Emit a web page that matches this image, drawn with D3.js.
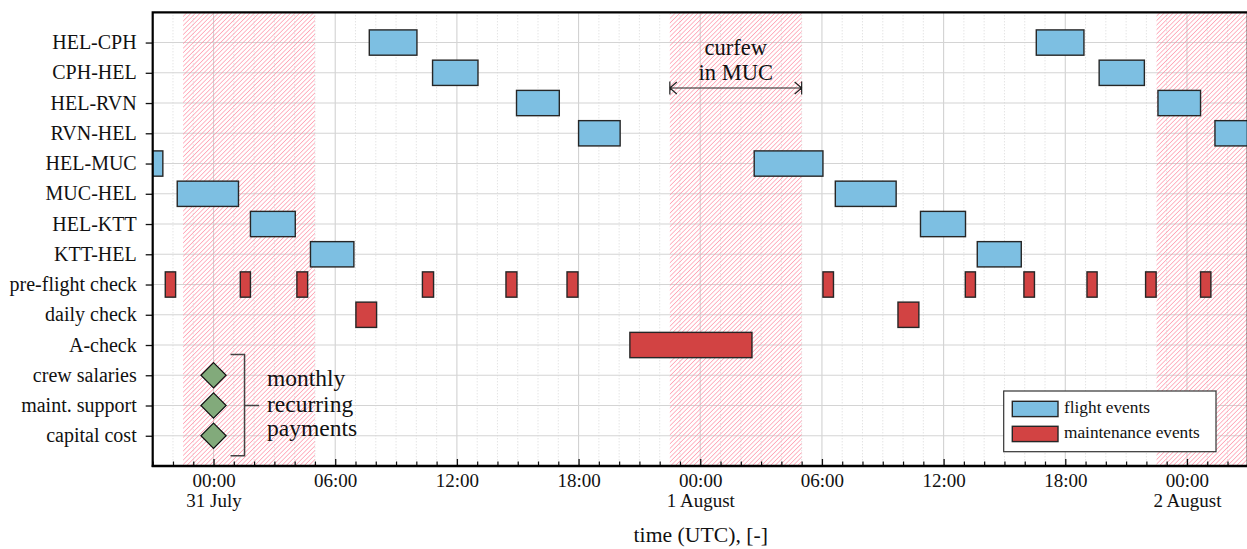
<!DOCTYPE html>
<html>
<head>
<meta charset="utf-8">
<script src="https://cdn.jsdelivr.net/npm/d3@7"></script>
<style>
  html, body { margin: 0; padding: 0; background: #fff; }
  svg { display: block; font-family: "Liberation Serif", "DejaVu Serif", serif; }
</style>
</head>
<body>
<svg id="chart" width="1247" height="549"></svg>
<script>
// ---------- data (hours relative to 31 July 00:00 UTC) ----------
const rows = ["HEL-CPH", "CPH-HEL", "HEL-RVN", "RVN-HEL", "HEL-MUC", "MUC-HEL",
  "HEL-KTT", "KTT-HEL", "pre-flight check", "daily check", "A-check",
  "crew salaries", "maint. support", "capital cost"];

const flightRows   = ["HEL-CPH", "HEL-CPH", "CPH-HEL", "CPH-HEL", "HEL-RVN", "HEL-RVN",
  "RVN-HEL", "RVN-HEL", "HEL-MUC", "HEL-MUC", "MUC-HEL", "MUC-HEL",
  "HEL-KTT", "HEL-KTT", "KTT-HEL", "KTT-HEL"];
const flightStart  = [7.68, 40.57, 10.80, 43.67, 14.94, 46.57, 18.00, 49.38,
  -3.50, 26.66, -1.79, 30.66, 1.82, 34.86, 4.78, 37.66];
const flightEnd    = [10.03, 42.92, 13.04, 45.90, 17.05, 48.67, 20.05, 51.50,
  -2.50, 30.05, 1.23, 33.66, 4.03, 37.08, 6.92, 39.83];

const maintRows  = ["pre-flight check", "pre-flight check", "pre-flight check", "pre-flight check",
  "pre-flight check", "pre-flight check", "pre-flight check", "pre-flight check",
  "pre-flight check", "pre-flight check", "pre-flight check", "pre-flight check",
  "daily check", "daily check", "A-check"];
const maintStart = [-2.38, 1.32, 4.11, 10.30, 14.42, 17.43, 30.05, 37.07, 39.96, 43.07, 45.96, 48.67,
  7.02, 33.75, 20.53];
const maintEnd   = [-1.87, 1.82, 4.64, 10.85, 14.96, 17.97, 30.57, 37.57, 40.48, 43.57, 46.48, 49.18,
  8.04, 34.78, 26.55];

const paymentRows = ["crew salaries", "maint. support", "capital cost"];
const paymentTime = [0, 0, 0];

const curfewStart = [-1.5, 22.5, 46.5];
const curfewEnd   = [5.0, 29.0, 53.0];

const xDomain = [-3, 51];
const majorTicks = [0, 6, 12, 18, 24, 30, 36, 42, 48];
const tickTimeLabels = ["00:00", "06:00", "12:00", "18:00", "00:00", "06:00", "12:00", "18:00", "00:00"];
const tickDayLabels  = ["31 July", "", "", "", "1 August", "", "", "", "2 August"];
const legendLabels = ["flight events", "maintenance events"];

// ---------- layout ----------
const svg = d3.select("#chart");
const L = 152.7, R = 1247.8, T = 12.3, B = 466;
const x = d3.scaleLinear().domain(xDomain).range([L, R]);
const y = d3.scalePoint().domain(rows).range([T, B]).padding(1);
const step = y.step();
const barH = step * 0.836;

const COL_FLIGHT = "#7dbfe2", COL_MAINT = "#d24343", COL_PAY = "#82aa7b";

const defs = svg.append("defs");
const pat = defs.append("pattern").attr("id", "hatch")
  .attr("patternUnits", "userSpaceOnUse").attr("width", 3.2).attr("height", 3.2)
  .attr("patternTransform", "rotate(45)");
pat.append("line").attr("x1", 0).attr("y1", 0).attr("x2", 0).attr("y2", 3.2)
  .attr("stroke", "#ff8ca1").attr("stroke-width", 1.25);
defs.append("clipPath").attr("id", "plotclip").append("rect")
  .attr("x", L).attr("y", T).attr("width", R - L).attr("height", B - T);

const plot = svg.append("g").attr("clip-path", "url(#plotclip)");

// grid: minor (hourly) dotted
const hours = d3.range(xDomain[0], xDomain[1] + 1);
plot.append("g").selectAll("line").data(hours.filter(h => h % 6 !== 0)).join("line")
  .attr("x1", d => x(d)).attr("x2", d => x(d)).attr("y1", T).attr("y2", B)
  .attr("stroke", "#cfcfcf").attr("stroke-width", 0.8).attr("stroke-dasharray", "1,2");
// grid: major
plot.append("g").selectAll("line").data(majorTicks).join("line")
  .attr("x1", d => x(d)).attr("x2", d => x(d)).attr("y1", T).attr("y2", B)
  .attr("stroke", "#d2d2d2").attr("stroke-width", 1.1);
// grid: rows
plot.append("g").selectAll("line").data(rows).join("line")
  .attr("x1", L).attr("x2", R).attr("y1", d => y(d)).attr("y2", d => y(d))
  .attr("stroke", "#d4d4d4").attr("stroke-width", 1.1);

// curfew hatches
plot.append("g").selectAll("rect").data(curfewStart).join("rect")
  .attr("x", (d, i) => x(d)).attr("y", T)
  .attr("width", (d, i) => x(curfewEnd[i]) - x(d)).attr("height", B - T)
  .attr("fill", "url(#hatch)");

// flight bars
plot.append("g").selectAll("rect").data(flightStart).join("rect")
  .attr("x", (d, i) => x(d)).attr("y", (d, i) => y(flightRows[i]) - barH / 2)
  .attr("width", (d, i) => x(flightEnd[i]) - x(d)).attr("height", barH)
  .attr("fill", COL_FLIGHT).attr("stroke", "#262626").attr("stroke-width", 1.4);

// maintenance bars
plot.append("g").selectAll("rect").data(maintStart).join("rect")
  .attr("x", (d, i) => x(d)).attr("y", (d, i) => y(maintRows[i]) - barH / 2)
  .attr("width", (d, i) => x(maintEnd[i]) - x(d)).attr("height", barH)
  .attr("fill", COL_MAINT).attr("stroke", "#262626").attr("stroke-width", 1.4);

// payments (diamonds)
const dS = 12.6;
plot.append("g").selectAll("path").data(paymentTime).join("path")
  .attr("d", (d, i) => {
    const cx = x(d), cy = y(paymentRows[i]);
    return `M${cx},${cy - dS}L${cx + dS},${cy}L${cx},${cy + dS}L${cx - dS},${cy}Z`;
  })
  .attr("fill", COL_PAY).attr("stroke", "#111").attr("stroke-width", 1.2);

// bracket annotation
const bx = x(paymentTime[0]) + 31;
const yTopB = y(paymentRows[0]) - 20.7, yBotB = y(paymentRows[2]) + 20;
const ann = svg.append("g");
ann.append("path")
  .attr("d", `M${bx - 14},${yTopB}H${bx}V${yBotB}H${bx - 14}M${bx},${y(paymentRows[1])}H${bx + 14.5}`)
  .attr("fill", "none").attr("stroke", "#444").attr("stroke-width", 1.5);
const annText = ann.append("text").attr("font-size", 23.5).attr("fill", "#111");
[["monthly", 386], ["recurring", 411.5], ["payments", 436]].forEach(([t, yy]) => {
  annText.append("tspan").attr("x", bx + 22.5).attr("y", yy).text(t);
});

// curfew annotation
const cx0 = x(curfewStart[1]), cx1 = x(curfewEnd[1]), cyA = 88;
ann.append("path")
  .attr("d", `M${cx0},${cyA}H${cx1}M${cx0},${cyA - 6.5}V${cyA + 6.5}M${cx1},${cyA - 6.5}V${cyA + 6.5}` +
    `M${cx0 + 7},${cyA - 6}L${cx0},${cyA}L${cx0 + 7},${cyA + 6}` +
    `M${cx1 - 7},${cyA - 6}L${cx1},${cyA}L${cx1 - 7},${cyA + 6}`)
  .attr("fill", "none").attr("stroke", "#222").attr("stroke-width", 1.2);
const cText = ann.append("text").attr("font-size", 22.5).attr("text-anchor", "middle").attr("fill", "#111");
cText.append("tspan").attr("x", (cx0 + cx1) / 2).attr("y", 55).text("curfew");
cText.append("tspan").attr("x", (cx0 + cx1) / 2).attr("y", 80).text("in MUC");

// axes
const yAxis = svg.append("g").attr("transform", `translate(${L},0)`)
  .call(d3.axisLeft(y).tickSize(7).tickPadding(9));
yAxis.select(".domain").remove();
yAxis.selectAll(".tick line").attr("stroke", "#111").attr("stroke-width", 1.3);
yAxis.selectAll(".tick text").attr("font-size", 20).attr("font-family", "Liberation Serif").attr("fill", "#111").attr("dy", "0.31em");

const xMinor = svg.append("g").attr("transform", `translate(0,${B})`)
  .call(d3.axisBottom(x).tickValues(hours.filter(h => h % 6 !== 0)).tickSize(-4.5).tickFormat(""));
xMinor.select(".domain").remove();
xMinor.selectAll(".tick line").attr("stroke", "#111").attr("stroke-width", 1.2);

const xAxis = svg.append("g").attr("transform", `translate(0,${B})`)
  .call(d3.axisBottom(x).tickValues(majorTicks).tickSize(-7).tickFormat(""));
xAxis.select(".domain").remove();
xAxis.selectAll(".tick line").attr("stroke", "#111").attr("stroke-width", 1.3);
xAxis.selectAll(".tick").each(function (d, i) {
  const t = d3.select(this).append("text").attr("fill", "#111").attr("font-size", 19)
    .attr("font-family", "Liberation Serif").attr("text-anchor", "middle");
  t.append("tspan").attr("x", 0).attr("y", 20.7).text(tickTimeLabels[i]);
  if (tickDayLabels[i]) t.append("tspan").attr("x", 0).attr("y", 40.7).text(tickDayLabels[i]);
});

svg.append("text").attr("x", (L + R) / 2 + 0.5).attr("y", 542).attr("text-anchor", "middle")
  .attr("font-size", 21.7).attr("fill", "#111").text("time (UTC), [-]");

// spines
svg.append("path").attr("d", `M${L},${T}H${R}V${B}H${L}Z`)
  .attr("fill", "none").attr("stroke", "#000").attr("stroke-width", 2.2);
svg.append("line").attr("x1", L - 1).attr("x2", R).attr("y1", B).attr("y2", B)
  .attr("stroke", "#000").attr("stroke-width", 2.6);

// legend
const lg = svg.append("g");
lg.append("rect").attr("x", 1003.7).attr("y", 391).attr("width", 212.3).attr("height", 60.7)
  .attr("fill", "#fff").attr("stroke", "#333").attr("stroke-width", 1.2);
[COL_FLIGHT, COL_MAINT].forEach((c, i) => {
  lg.append("rect").attr("x", 1012.3).attr("y", 401.3 + i * 25).attr("width", 45.7).attr("height", 15.3)
    .attr("fill", c).attr("stroke", "#262626").attr("stroke-width", 1.4);
  lg.append("text").attr("x", 1064).attr("y", 413.3 + i * 24.6).attr("font-size", 17.3)
    .attr("fill", "#111").text(legendLabels[i]);
});
</script>
</body>
</html>
